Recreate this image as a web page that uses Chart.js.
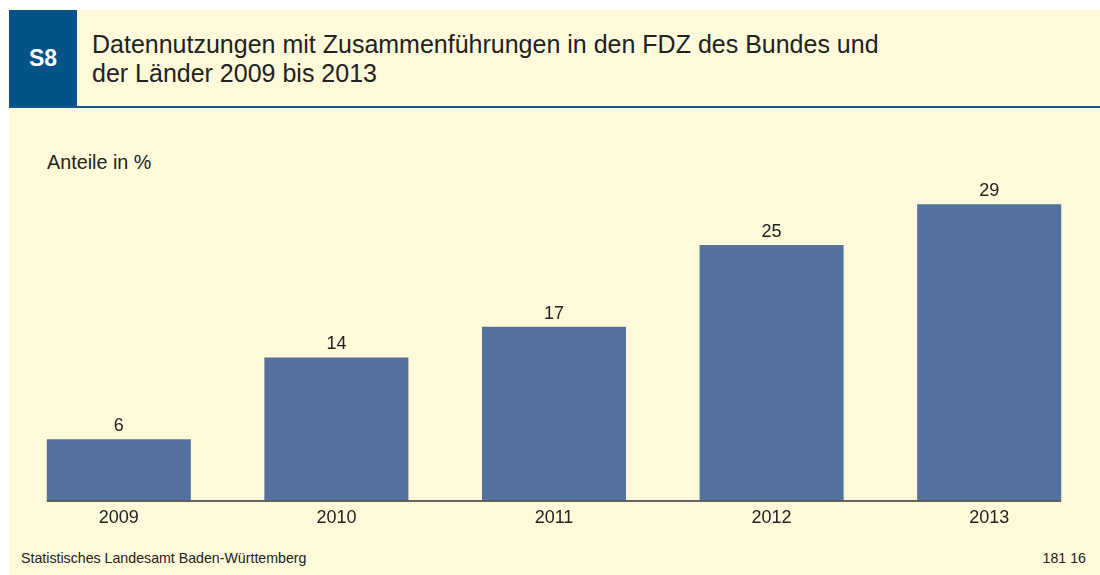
<!DOCTYPE html>
<html lang="de">
<head>
<meta charset="utf-8">
<title>S8 Datennutzungen</title>
<script src="https://cdn.jsdelivr.net/npm/chart.js@4/dist/chart.umd.min.js"></script>
<style>
  html, body { margin: 0; padding: 0; background: #fff; }
  body { width: 1100px; height: 575px; position: relative; overflow: hidden; font-family: "Liberation Sans", Arial, sans-serif; color: #222; }
  #panel { position: absolute; left: 9px; top: 10px; width: 1091px; height: 565px; background: #fefad9; }
  #badge { position: absolute; left: 9px; top: 10px; width: 68px; height: 96px; background: #03528a; color: #fff; font-weight: bold; font-size: 23px; line-height: 96px; text-align: center; }
  #rule { position: absolute; left: 9px; top: 106px; width: 1091px; height: 2px; background: #0d5a8f; }
  #title { position: absolute; left: 92px; top: 30px; font-size: 25px; line-height: 29px; white-space: nowrap; }
  #unit { position: absolute; left: 47px; top: 153px; font-size: 19.8px; line-height: 1; }
  #source { position: absolute; left: 21px; top: 551px; font-size: 14.2px; line-height: 1; }
  #code { position: absolute; right: 14px; top: 551px; font-size: 14.2px; line-height: 1; }
  #chart { position: absolute; left: 0; top: 143px; }
</style>
</head>
<body>
<div id="panel"></div>
<div id="badge">S8</div>
<div id="rule"></div>
<div id="title">Datennutzungen mit Zusammenführungen in den FDZ des Bundes und<br>der Länder 2009 bis 2013</div>
<div id="unit">Anteile in %</div>
<div id="source">Statistisches Landesamt Baden-Württemberg</div>
<div id="code">181 16</div>
<canvas id="chart" width="1100" height="393"></canvas>
<script>
const years = ["2009", "2010", "2011", "2012", "2013"];
const shares = [6, 14, 17, 25, 29];

const barColor = "#53709f";
const textColor = "#222";
const fontFamily = '"Liberation Sans", Arial, sans-serif';

// value labels above bars + baseline that only spans the bars
const barExtras = {
  id: "barExtras",
  afterDatasetsDraw(chart) {
    const { ctx, chartArea } = chart;
    const bars = chart.getDatasetMeta(0).data;
    ctx.save();
    ctx.fillStyle = textColor;
    ctx.font = `18px ${fontFamily}`;
    ctx.textAlign = "center";
    ctx.textBaseline = "alphabetic";
    bars.forEach((bar, i) => {
      ctx.fillText(String(shares[i]), bar.x, bar.y - 8);
    });
    const first = bars[0];
    const last = bars.at(-1);
    ctx.strokeStyle = "#333";
    ctx.lineWidth = 1.5;
    ctx.beginPath();
    ctx.moveTo(first.x - first.width / 2, chartArea.bottom + 0.5);
    ctx.lineTo(last.x + last.width / 2, chartArea.bottom + 0.5);
    ctx.stroke();
    ctx.restore();
  },
};

new Chart(document.getElementById("chart"), {
  type: "bar",
  data: {
    labels: years,
    datasets: [
      {
        label: "Anteile in %",
        data: shares,
        backgroundColor: barColor,
        borderWidth: 0,
        barPercentage: 1,
        categoryPercentage: 0.662,
      },
    ],
  },
  options: {
    responsive: false,
    animation: false,
    layout: { padding: { left: 10, right: 2, top: 0, bottom: 0 } },
    plugins: { legend: { display: false }, tooltip: { enabled: false } },
    scales: {
      x: {
        grid: { display: false, drawTicks: false },
        border: { display: false },
        ticks: { color: textColor, font: { size: 18, family: fontFamily }, padding: 7 },
      },
      y: { display: false, min: 0, max: 35 },
    },
  },
  plugins: [barExtras],
});
</script>
</body>
</html>
